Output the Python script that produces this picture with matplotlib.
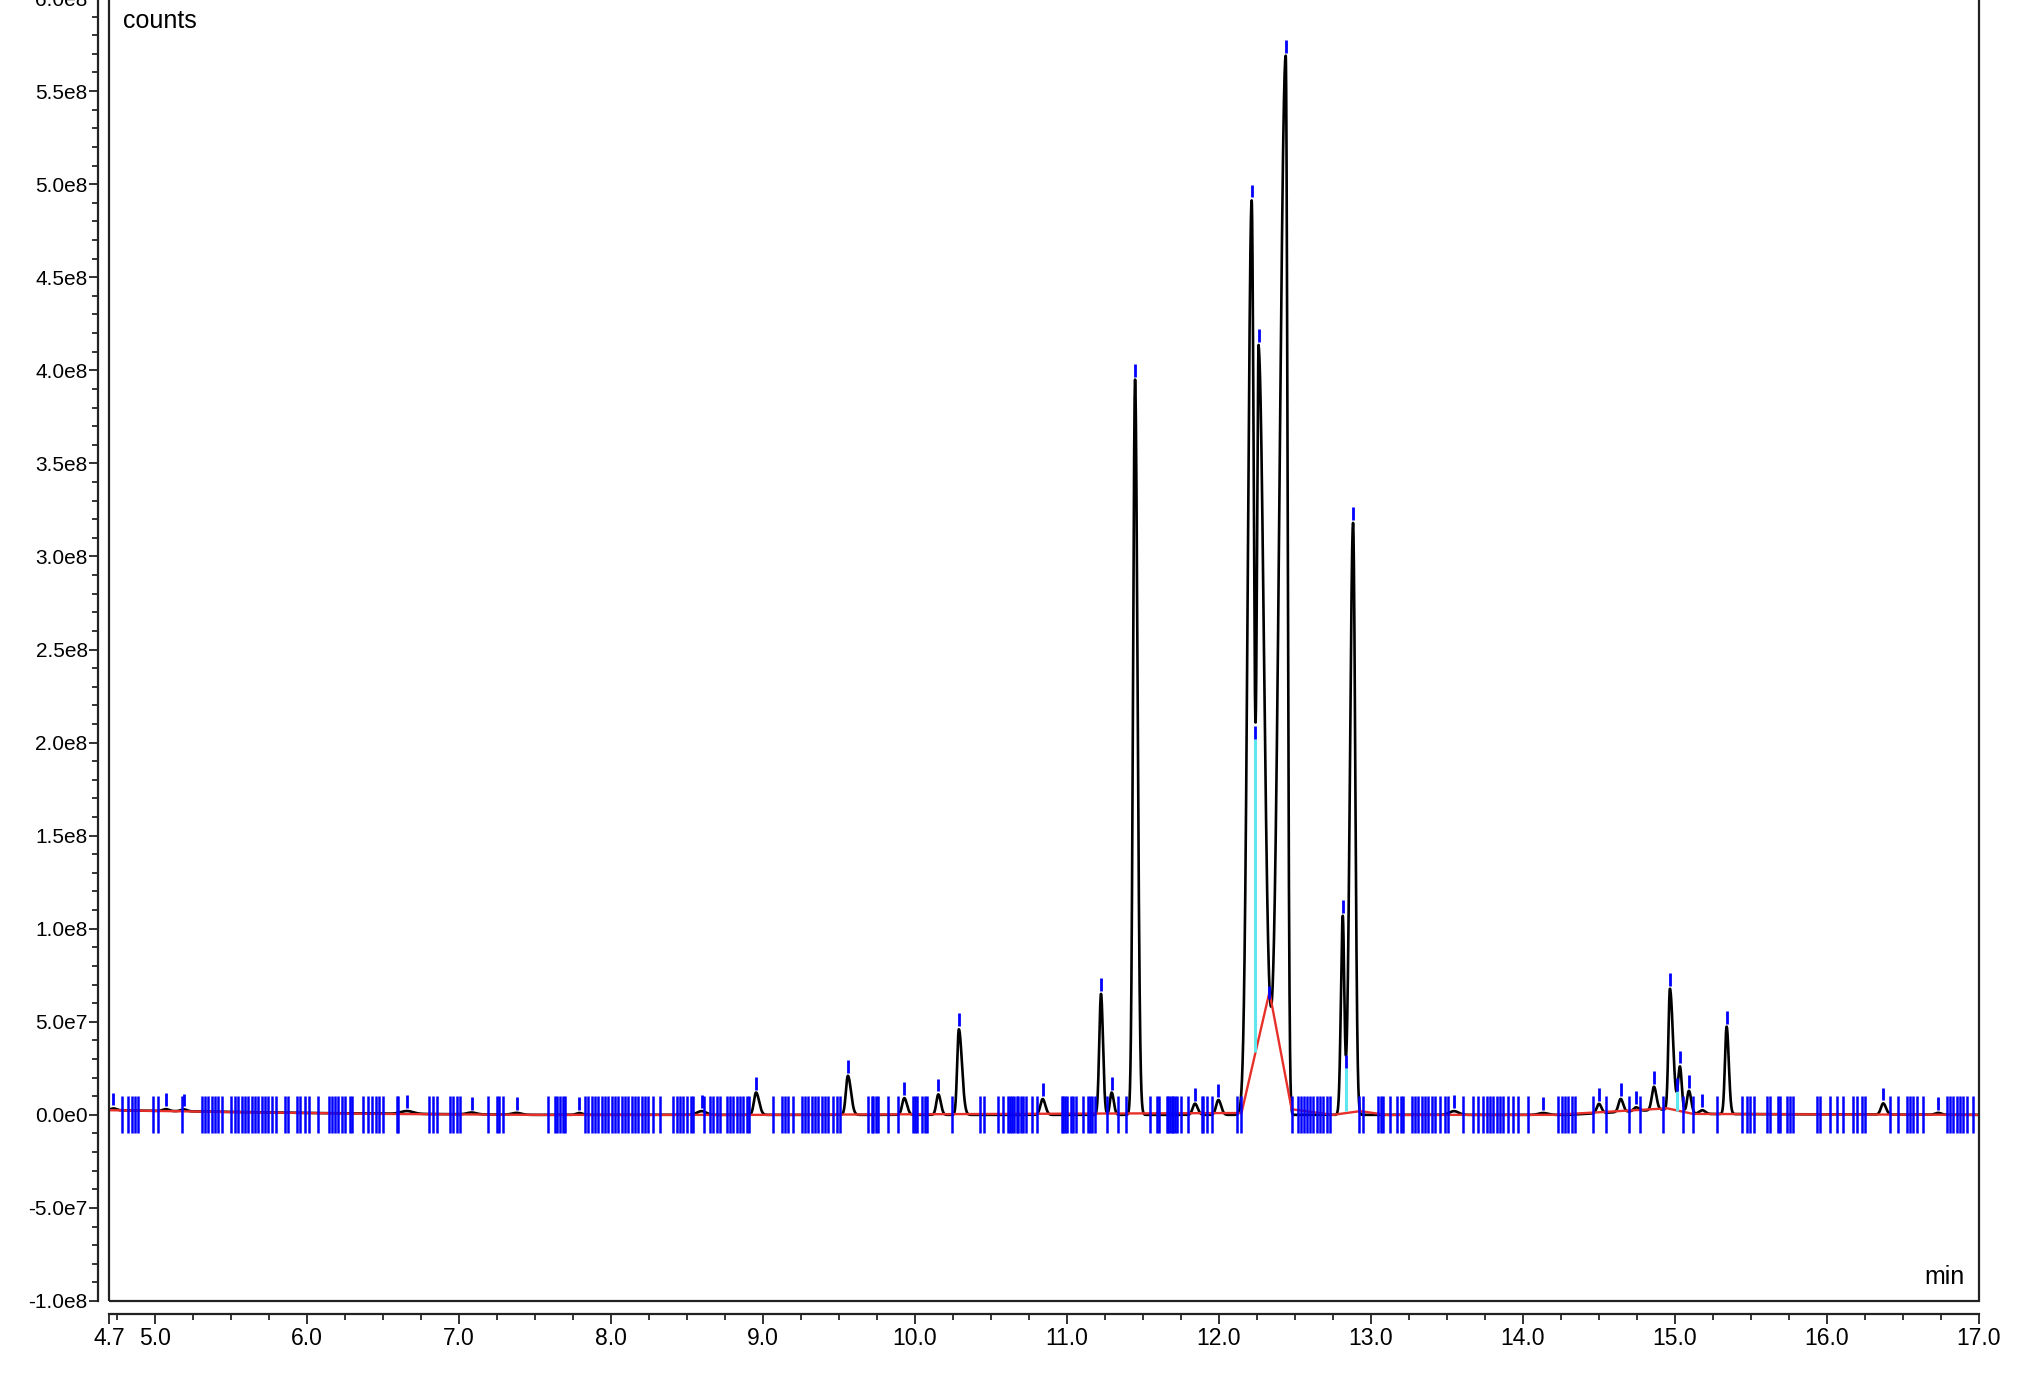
import numpy as np
import matplotlib
matplotlib.use("Agg")
import matplotlib.pyplot as plt
from matplotlib.patches import Rectangle
from matplotlib.ticker import MultipleLocator, FuncFormatter

plt.rcParams['font.family'] = ['Liberation Sans', 'DejaVu Sans']

# peaks: retention time (min), height (counts), left/right width (min)
peak_t = [4.729, 5.075, 5.193, 6.66, 7.085, 7.381, 7.794, 8.598, 8.956, 9.56,
          9.931, 10.155, 10.29, 10.841, 11.225, 11.295, 11.449, 11.843, 11.997, 12.216,
          12.262, 12.44, 12.815, 12.883, 13.547, 14.134, 14.5, 14.643, 14.744, 14.862,
          14.967, 15.033, 15.092, 15.18, 15.34, 16.37, 16.732]
peak_h = [1e6, 1e6, 1e6, 1.5e6, 1e6, 1e6, 1e6, 2e6, 1.2e7, 2.1e7,
          9e6, 1.1e7, 4.6e7, 8.5e6, 6.5e7, 1.2e7, 3.95e8, 6e6, 8e6, 4.91e8,
          4.09e8, 5.69e8, 1.06e8, 3.18e8, 2e6, 1e6, 5e6, 7e6, 2e6, 1.25e7,
          6.5e7, 2.4e7, 1.2e7, 2e6, 4.7e7, 6e6, 1e6]
peak_sl = [0.02, 0.02, 0.02, 0.04, 0.03, 0.03, 0.02, 0.03, 0.014, 0.013,
           0.014, 0.013, 0.011, 0.015, 0.0115, 0.011, 0.013, 0.015, 0.015, 0.025,
           0.012, 0.040, 0.012, 0.020, 0.03, 0.03, 0.014, 0.014, 0.015, 0.014,
           0.010, 0.012, 0.012, 0.02, 0.011, 0.015, 0.02]
peak_sr = [0.02, 0.02, 0.02, 0.04, 0.03, 0.03, 0.02, 0.03, 0.02, 0.02,
           0.018, 0.016, 0.02, 0.018, 0.013, 0.014, 0.016, 0.018, 0.018, 0.015,
           0.035, 0.012, 0.010, 0.014, 0.03, 0.03, 0.016, 0.016, 0.02, 0.016,
           0.02, 0.012, 0.015, 0.02, 0.014, 0.018, 0.02]

# signal floor under the trace
floor_t = [4.7, 6.0, 7.5, 14.3, 14.95, 15.12, 17.0]
floor_y = [2.5e6, 1.0e6, 0, 0, 3e6, 0.5e6, 0]

# integration baseline (red)
base_t = [4.7, 5.5, 6.5, 7.5, 9.0, 12.149, 12.333, 12.479, 12.75, 12.93, 13.1, 14.2, 14.95, 15.12, 17.0]
base_y = [2.5e6, 1.5e6, 0.5e6, 0, 0, 1.0e6, 6.6e7, 3.0e6, 0, 2.0e6, 0, 0, 3.5e6, 0.5e6, 0]

# drop lines (cyan) and valley marks
drop_t = [12.24, 12.835, 15.011]
drop_lo = [3.4e7, 2e6, 2e6]
drop_hi = [2.02e8, 2.5e7, 1.3e7]
valley_t = [12.24, 12.333, 12.835, 15.011]
valley_y = [2.02e8, 6.2e7, 2.5e7, 1.3e7]

# peak start / end marks along the baseline
marks = [4.788, 4.823, 4.849, 4.871, 4.893, 4.992, 5.025, 5.182, 5.309, 5.331, 5.353, 5.375,
         5.397, 5.419, 5.445, 5.503, 5.529, 5.551, 5.573, 5.595, 5.616, 5.638, 5.660, 5.682,
         5.704, 5.726, 5.748, 5.770, 5.796, 5.858, 5.875, 5.934, 5.956, 5.989, 6.015, 6.077,
         6.147, 6.165, 6.187, 6.208, 6.230, 6.252, 6.285, 6.300, 6.373, 6.406, 6.428, 6.454,
         6.476, 6.504, 6.592, 6.603, 6.805, 6.833, 6.855, 6.943, 6.965, 6.987, 7.009,
         7.195, 7.250, 7.267, 7.294, 7.590, 7.634, 7.649, 7.666, 7.684, 7.699, 7.831, 7.853,
         7.875, 7.897, 7.919, 7.941, 7.962, 7.984, 8.006, 8.028, 8.050, 8.072, 8.094, 8.116,
         8.138, 8.160, 8.182, 8.204, 8.226, 8.247, 8.280, 8.324, 8.412, 8.434, 8.456, 8.478,
         8.500, 8.526, 8.544, 8.614, 8.653, 8.675, 8.701, 8.719, 8.763, 8.785, 8.807, 8.828,
         8.850, 8.872, 8.894, 8.912, 9.070, 9.125, 9.146, 9.168, 9.201, 9.256, 9.278, 9.300,
         9.322, 9.344, 9.366, 9.388, 9.410, 9.432, 9.465, 9.487, 9.508,
         9.695, 9.717, 9.728, 9.743, 9.756, 9.822, 9.892, 9.991, 10.002, 10.013, 10.045,
         10.067, 10.078, 10.243, 10.429, 10.458, 10.550, 10.583, 10.616, 10.627, 10.638,
         10.655, 10.670, 10.681, 10.699, 10.714, 10.730, 10.769, 10.802, 10.966, 10.977,
         10.988, 10.999, 11.028, 11.043, 11.058, 11.109, 11.142, 11.153, 11.168, 11.186,
         11.262, 11.339, 11.387, 11.547, 11.591, 11.607, 11.657, 11.668, 11.679, 11.690,
         11.701, 11.712, 11.723, 11.751, 11.799, 11.887, 11.898, 11.920, 11.953,
         12.117, 12.149, 12.479, 12.523, 12.538, 12.560, 12.578, 12.600, 12.622, 12.648,
         12.665, 12.687, 12.709, 12.731, 12.924, 12.950, 13.049, 13.065, 13.082, 13.126,
         13.170, 13.196, 13.214, 13.268, 13.290, 13.312, 13.334, 13.356, 13.378, 13.400,
         13.422, 13.455, 13.488, 13.510, 13.608, 13.674, 13.707, 13.740, 13.762, 13.784,
         13.806, 13.828, 13.849, 13.871, 13.904, 13.937, 13.970, 14.036,
         14.233, 14.255, 14.277, 14.299, 14.321, 14.342, 14.459, 14.546, 14.698, 14.770,
         14.923, 15.055, 15.121, 15.274, 15.439, 15.472, 15.494, 15.520, 15.603, 15.625,
         15.680, 15.691, 15.735, 15.757, 15.779, 15.932, 15.954, 16.020, 16.064, 16.107,
         16.173, 16.195, 16.228, 16.250, 16.414, 16.469, 16.524, 16.546, 16.568, 16.590,
         16.634, 16.787, 16.809, 16.831, 16.853, 16.875, 16.897, 16.919, 16.962]

x_ticks = [4.7, 5, 6, 7, 8, 9, 10, 11, 12, 13, 14, 15, 16, 17]


def bigauss(t, t0, h, sl, sr):
    s = np.where(t < t0, sl, sr)
    return h * np.exp(-0.5 * ((t - t0) / s) ** 2)


t = np.linspace(4.7, 17.0, 24601)
trace = np.interp(t, floor_t, floor_y)
for i in range(len(peak_t)):
    trace = trace + bigauss(t, peak_t[i], peak_h[i], peak_sl[i], peak_sr[i])
apex = np.interp(peak_t, t, trace)

W, H = 2034, 1374
fig = plt.figure(figsize=(W / 100, H / 100), dpi=100)
ax = fig.add_axes([109 / W, 1 - 1301 / H, 1870 / W, 1303 / H])

ax.plot(t, trace, color='black', lw=1.9, zorder=3)
ax.plot(base_t, base_y, color='#e8302a', lw=1.7, zorder=4)
ax.vlines(drop_t, drop_lo, drop_hi, colors='#5fe6ef', lw=2.2, zorder=4)
ax.vlines(marks, -0.95e7, 1.0e7, colors='#0000ff', lw=1.8, zorder=5)
ax.vlines(peak_t, apex + 1.6e6, apex + 8.5e6, colors='#0000ff', lw=2.0, zorder=5)
ax.vlines(valley_t, np.array(valley_y), np.array(valley_y) + 7e6, colors='#0000ff', lw=2.0, zorder=5)

ax.set_xlim(4.7, 17.0)
ax.set_ylim(-1.0e8, 6.0e8)


def sci(v, pos):
    if abs(v) < 1:
        return "0.0e0"
    e = int(np.floor(np.log10(abs(v))))
    return f"{v / 10 ** e:.1f}e{e}"


ax.yaxis.set_major_locator(MultipleLocator(0.5e8))
ax.yaxis.set_minor_locator(MultipleLocator(0.1e8))
ax.yaxis.set_major_formatter(FuncFormatter(sci))
ax.set_xticks(x_ticks)
ax.set_xticklabels([f"{v:.1f}" for v in x_ticks])
ax.xaxis.set_minor_locator(MultipleLocator(0.25))

ax.spines['top'].set_visible(False)
ax.spines['right'].set_visible(False)
ax.spines['left'].set_position(('outward', 8))
ax.spines['bottom'].set_position(('outward', 9))
for s in ['left', 'bottom']:
    ax.spines[s].set_linewidth(1.6)
    ax.spines[s].set_color('#222222')
ax.add_patch(Rectangle((0, 0), 1, 1, transform=ax.transAxes, fill=False,
                       lw=1.6, ec='#222222', clip_on=False, zorder=6))

ax.tick_params(axis='both', which='major', color='#222222', width=1.3)
ax.tick_params(axis='y', which='major', labelsize=15, length=6.5, pad=0.8)
ax.tick_params(axis='y', which='minor', length=4.5, width=1.1)
ax.tick_params(axis='x', which='major', labelsize=16.5, length=7, pad=2.5)
ax.tick_params(axis='x', which='minor', length=4.5, width=1.1)

ax.text(0.0075, 1 - 23 / 1303, "counts", transform=ax.transAxes,
        fontsize=18, ha='left', va='center')
ax.text(0.9925, 24 / 1303, "min", transform=ax.transAxes,
        fontsize=18, ha='right', va='center')

fig.savefig("out.png", dpi=100)
